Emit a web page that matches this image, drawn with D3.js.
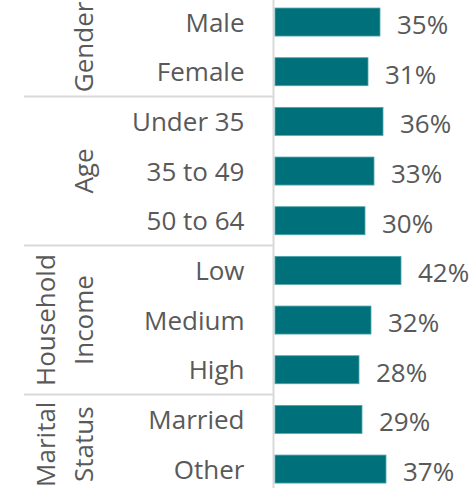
<!DOCTYPE html>
<html>
<head>
<meta charset="utf-8">
<script src="https://cdn.jsdelivr.net/npm/d3@7"></script>
<style>
  html, body { margin: 0; padding: 0; background: #fff; }
  svg { display: block; font-family: "Open Sans", "Noto Sans", sans-serif; }
</style>
</head>
<body>
<svg id="chart" width="471" height="488"></svg>
<script>
// Share of respondents by demographic group
const categories = ["Male", "Female", "Under 35", "35 to 49", "50 to 64",
                    "Low", "Medium", "High", "Married", "Other"];
const values = [35, 31, 36, 33, 30, 42, 32, 28, 29, 37];
const groupLabels = [["Gender"], ["Age"], ["Household", "Income"], ["Marital", "Status"]];
const groupSizes = [2, 3, 3, 2];

const svg = d3.select("#chart");
const textColor = "#595959";
const gridColor = "#d9d9d9";
const barColor = "#00707a";

const y = d3.scaleBand()
  .domain(categories)
  .range([-2.8, 493.9])
  .paddingInner(0.436)
  .paddingOuter(0.218);

const x = d3.scaleLinear().domain([0, 50]).range([275, 425]);

// group separators
let idx = 0;
const groups = groupLabels.map((lines, i) => {
  const first = categories[idx];
  const last = categories[idx + groupSizes[i] - 1];
  idx += groupSizes[i];
  const top = y(first) - y.step() * y.paddingInner() / 2;
  const bottom = y(last) + y.bandwidth() + y.step() * y.paddingInner() / 2;
  return { lines, top, bottom };
});

svg.append("g").selectAll("line")
  .data(groups.slice(1))
  .join("line")
  .attr("x1", 24).attr("x2", 273)
  .attr("y1", d => d.top).attr("y2", d => d.top)
  .attr("stroke", gridColor).attr("stroke-width", 2);

// category axis line
svg.append("line")
  .attr("x1", 273.5).attr("x2", 273.5)
  .attr("y1", 0).attr("y2", 488)
  .attr("stroke", gridColor).attr("stroke-width", 2);

// bars
svg.append("g").selectAll("rect")
  .data(categories)
  .join("rect")
  .attr("x", x(0))
  .attr("y", d => y(d))
  .attr("width", (d, i) => x(values[i]) - x(0))
  .attr("height", y.bandwidth())
  .attr("fill", barColor)
  .attr("stroke", "#4fa6ad")
  .attr("stroke-width", 0.8);

// value labels
svg.append("g").selectAll("text")
  .data(categories)
  .join("text")
  .attr("x", (d, i) => x(values[i]) + 17)
  .attr("y", d => y(d) + y.bandwidth() / 2 + 12)
  .attr("fill", textColor)
  .attr("font-size", 26)
  .text((d, i) => values[i] + "%");

// category labels
svg.append("g").selectAll("text")
  .data(categories)
  .join("text")
  .attr("x", 244.5)
  .attr("y", d => y(d) + y.bandwidth() / 2 + 9.5)
  .attr("text-anchor", "end")
  .attr("fill", textColor)
  .attr("font-size", 26)
  .text(d => d);

// group labels (rotated)
const lineBase = [[93], [55, 93]];
groups.forEach(g => {
  const cy = (g.top + g.bottom) / 2;
  const bases = lineBase[g.lines.length - 1];
  g.lines.forEach((t, j) => {
    svg.append("text")
      .attr("transform", `translate(${bases[j]},${cy}) rotate(-90)`)
      .attr("text-anchor", "middle")
      .attr("fill", textColor)
      .attr("font-size", 26)
      .text(t);
  });
});
</script>
</body>
</html>
